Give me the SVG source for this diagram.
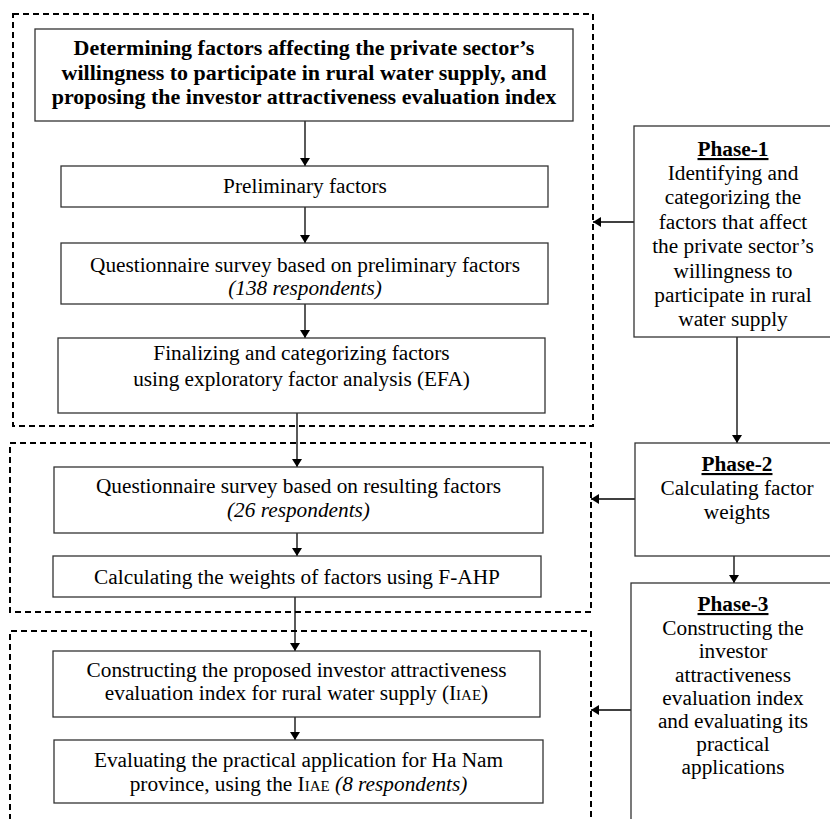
<svg xmlns="http://www.w3.org/2000/svg" width="830" height="819" viewBox="0 0 830 819">
<style>
.box{fill:#fff;stroke:#333;stroke-width:1.3}
.dash{fill:none;stroke:#000;stroke-width:2;stroke-dasharray:6 4}
.ln{stroke:#000;stroke-width:1.3;fill:none}
text{font-family:"Liberation Serif","Times New Roman",serif;font-size:21.3px;fill:#000;text-anchor:middle}
.b{font-weight:bold;font-size:22px}
.i{font-style:italic}
.u{font-weight:bold;text-decoration:underline}
.sc{font-size:15px}
</style>
<defs>
<marker id="ah" markerWidth="8" markerHeight="10" refX="8" refY="5" orient="auto" markerUnits="userSpaceOnUse">
<path d="M0,0 L8,5 L0,10 Z" fill="#000"/>
</marker>
</defs>
<g id="groups">
<rect class="dash" x="13" y="14" width="580" height="412"/>
<rect class="dash" x="10" y="443" width="581" height="169"/>
<path class="dash" d="M10,840 V631 H591 V840"/>
</g>
<g id="connectors">
<line class="ln" x1="305" y1="121" x2="305" y2="166" marker-end="url(#ah)"/>
<line class="ln" x1="305" y1="207" x2="305" y2="243" marker-end="url(#ah)"/>
<line class="ln" x1="305" y1="304" x2="305" y2="338" marker-end="url(#ah)"/>
<line class="ln" x1="297" y1="413" x2="297" y2="467" marker-end="url(#ah)"/>
<line class="ln" x1="297" y1="533" x2="297" y2="556" marker-end="url(#ah)"/>
<line class="ln" x1="295" y1="597" x2="295" y2="651" marker-end="url(#ah)"/>
<line class="ln" x1="295" y1="717" x2="295" y2="740" marker-end="url(#ah)"/>
<line class="ln" x1="634" y1="222" x2="593" y2="222" marker-end="url(#ah)"/>
<line class="ln" x1="635" y1="499" x2="591" y2="499" marker-end="url(#ah)"/>
<line class="ln" x1="631" y1="710" x2="591" y2="710" marker-end="url(#ah)"/>
<line class="ln" x1="737" y1="337" x2="737" y2="443" marker-end="url(#ah)"/>
<line class="ln" x1="734" y1="556" x2="734" y2="583" marker-end="url(#ah)"/>
</g>
<g id="n-title"><rect class="box" x="35" y="29" width="538" height="92"/>
<text class="b" x="304" y="55">Determining factors affecting the private sector’s</text>
<text class="b" x="304" y="80">willingness to participate in rural water supply, and</text>
<text class="b" x="304" y="104">proposing the investor attractiveness evaluation index</text></g>
<g id="n-prelim"><rect class="box" x="61" y="166" width="487" height="41"/>
<text x="305" y="193">Preliminary factors</text></g>
<g id="n-survey1"><rect class="box" x="61" y="243" width="487" height="61"/>
<text x="305" y="272">Questionnaire survey based on preliminary factors</text>
<text class="i" x="305" y="295">(138 respondents)</text></g>
<g id="n-efa"><rect class="box" x="58" y="338" width="487" height="75"/>
<text x="301.5" y="360">Finalizing and categorizing factors</text>
<text x="301.5" y="386">using exploratory factor analysis (EFA)</text></g>
<g id="n-survey2"><rect class="box" x="54" y="467" width="489" height="66"/>
<text x="298.5" y="493">Questionnaire survey based on resulting factors</text>
<text class="i" x="298.5" y="517">(26 respondents)</text></g>
<g id="n-weights"><rect class="box" x="53" y="556" width="488" height="41"/>
<text x="297" y="584">Calculating the weights of factors using F-AHP</text></g>
<g id="n-construct"><rect class="box" x="53" y="651" width="487" height="66"/>
<text x="296.5" y="677">Constructing the proposed investor attractiveness</text>
<text x="296.5" y="700">evaluation index for rural water supply (I<tspan class="sc">IAE</tspan>)</text></g>
<g id="n-evaluate"><rect class="box" x="54" y="740" width="489" height="63"/>
<text x="298.5" y="767">Evaluating the practical application for Ha Nam</text>
<text x="298.5" y="791">province, using the I<tspan class="sc">IAE</tspan> <tspan class="i">(8 respondents)</tspan></text></g>
<g id="n-phase1"><rect class="box" x="634" y="126" width="210" height="211"/>
<text class="u" x="733" y="156">Phase-1</text>
<text x="733" y="180">Identifying and</text>
<text x="733" y="204">categorizing the</text>
<text x="733" y="229">factors that affect</text>
<text x="733" y="253">the private sector’s</text>
<text x="733" y="278">willingness to</text>
<text x="733" y="302">participate in rural</text>
<text x="733" y="326">water supply</text></g>
<g id="n-phase2"><rect class="box" x="635" y="443" width="210" height="113"/>
<text class="u" x="737" y="471">Phase-2</text>
<text x="737" y="495">Calculating factor</text>
<text x="737" y="519">weights</text></g>
<g id="n-phase3"><rect class="box" x="631" y="583" width="215" height="250"/>
<text class="u" x="733" y="611">Phase-3</text>
<text x="733" y="635">Constructing the</text>
<text x="733" y="658">investor</text>
<text x="733" y="682">attractiveness</text>
<text x="733" y="705">evaluation index</text>
<text x="733" y="728">and evaluating its</text>
<text x="733" y="751">practical</text>
<text x="733" y="774">applications</text></g>
</svg>
